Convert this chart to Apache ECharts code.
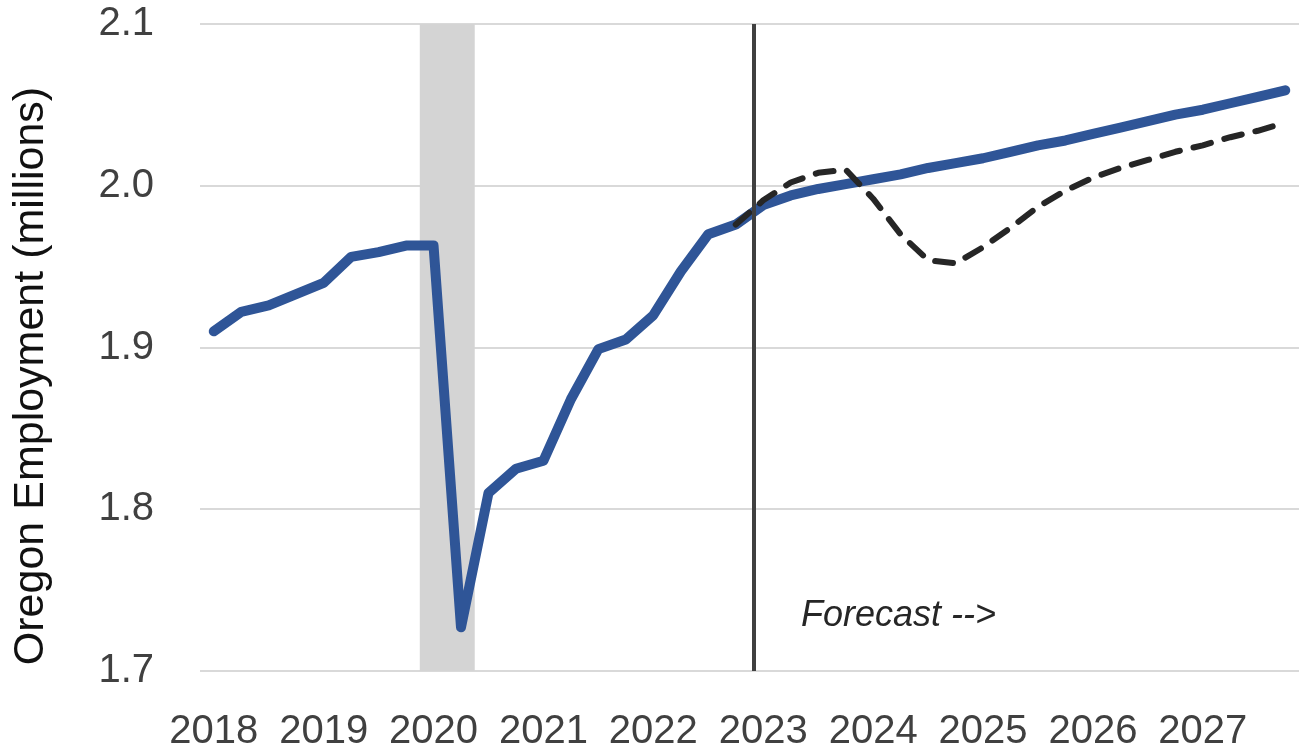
<!DOCTYPE html>
<html>
<head>
<meta charset="utf-8">
<script src="https://cdn.jsdelivr.net/npm/echarts@6/dist/echarts.min.js"></script>
<style>
  html, body { margin: 0; padding: 0; background: #fff; }
  #chart { width: 1299px; height: 752px; }
</style>
</head>
<body>
<div id="chart"></div>
<script>
// quarterly, 2018 Q1 .. 2027 Q4
const years = ['2018', '2019', '2020', '2021', '2022', '2023', '2024', '2025', '2026', '2027']
const quarters = years.flatMap(y => ['Q1', 'Q2', 'Q3', 'Q4'].map(q => y + ' ' + q))

// baseline forecast (millions)
const baseline = [
  1.910, 1.922, 1.926, 1.933, 1.940, 1.956, 1.959, 1.963,
  1.963, 1.727, 1.810, 1.825, 1.830, 1.868, 1.899, 1.905,
  1.920, 1.947, 1.970, 1.976, 1.988, 1.994, 1.998, 2.001,
  2.004, 2.007, 2.011, 2.014, 2.017, 2.021, 2.025, 2.028,
  2.032, 2.036, 2.040, 2.044, 2.047, 2.051, 2.055, 2.059
]

// alternative (recession) scenario, starts at 2022 Q4
const alternative = [
  null, null, null, null, null, null, null, null,
  null, null, null, null, null, null, null, null,
  null, null, null, 1.976, 1.991, 2.002, 2.008, 2.010,
  1.992, 1.970, 1.954, 1.952, 1.962, 1.974, 1.987, 1.997,
  2.005, 2.011, 2.016, 2.021, 2.025, 2.030, 2.034, 2.039
]

const yTicks = [1.7, 1.8, 1.9, 2.0, 2.1]
// recession band and forecast start, in quarter-index units
const recession = [7.5, 9.5]
const forecastStart = 19.65

const font = 'Liberation Sans'

const chart = echarts.init(document.getElementById('chart'))
chart.setOption({
  animation: false,
  grid: { left: 200, top: 24, width: 1102, height: 648 },
  xAxis: [
    {
      type: 'category',
      data: quarters,
      boundaryGap: true,
      axisLine: { show: false },
      axisTick: { show: false },
      axisLabel: {
        interval: 3,
        margin: 41,
        fontFamily: font,
        fontSize: 40,
        color: '#404040',
        formatter: v => v.slice(0, 4)
      }
    },
    {
      // hidden helper axis for the band and forecast marker
      type: 'value',
      min: -0.5,
      max: quarters.length - 0.5,
      show: false
    }
  ],
  yAxis: {
    type: 'value',
    min: yTicks[0],
    max: yTicks[yTicks.length - 1],
    interval: 0.1,
    axisLine: { show: false },
    axisTick: { show: false },
    splitLine: { lineStyle: { color: '#d9d9d9', width: 2 } },
    axisLabel: {
      margin: 46,
      fontFamily: font,
      fontSize: 40,
      color: '#404040',
      formatter: v => v.toFixed(1)
    }
  },
  graphic: [
    {
      type: 'text',
      x: 31,
      y: 376,
      rotation: Math.PI / 2,
      style: {
        text: 'Oregon Employment (millions)',
        fontFamily: font,
        fontSize: 43,
        fill: '#111',
        align: 'center',
        verticalAlign: 'middle'
      }
    },
    {
      type: 'text',
      x: 801,
      y: 616,
      style: {
        text: 'Forecast -->',
        fontFamily: font,
        fontStyle: 'italic',
        fontSize: 36,
        fill: '#262626',
        align: 'left',
        verticalAlign: 'middle'
      }
    }
  ],
  series: [
    {
      type: 'line',
      xAxisIndex: 1,
      data: [],
      silent: true,
      markArea: {
        silent: true,
        itemStyle: { color: '#d4d4d4' },
        data: [[{ xAxis: recession[0] }, { xAxis: recession[1] }]]
      },
      markLine: {
        silent: true,
        symbol: 'none',
        label: { show: false },
        lineStyle: { color: '#404040', width: 4, type: 'solid' },
        data: [{ xAxis: forecastStart }]
      }
    },
    {
      name: 'Baseline',
      type: 'line',
      data: baseline,
      showSymbol: false,
      lineStyle: { color: '#2f5597', width: 10, cap: 'round', join: 'round' },
      z: 3
    },
    {
      name: 'Alternative',
      type: 'line',
      data: alternative,
      showSymbol: false,
      lineStyle: { color: '#262626', width: 6, type: [18, 14], cap: 'round', join: 'round' },
      z: 4
    }
  ]
})
</script>
</body>
</html>
